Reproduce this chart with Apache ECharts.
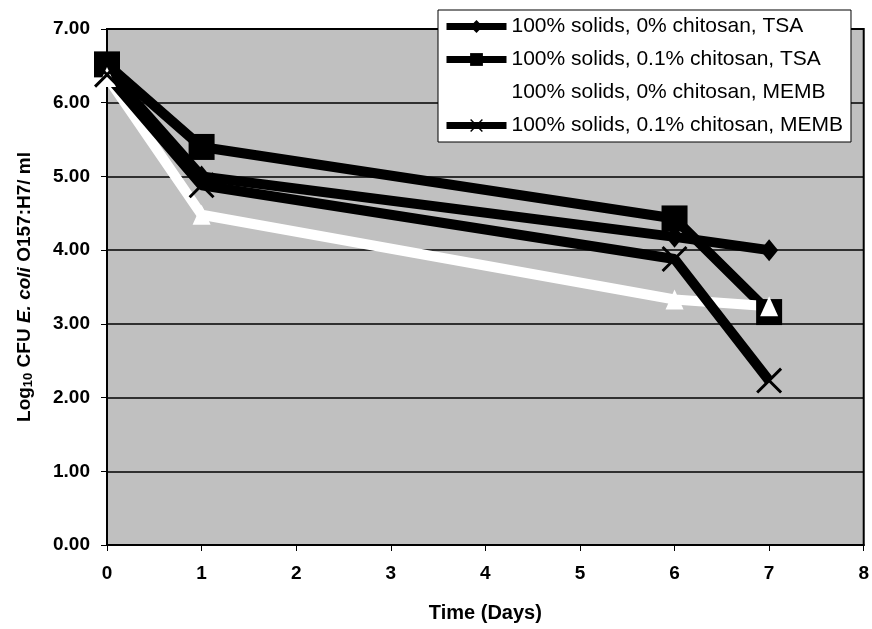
<!DOCTYPE html>
<html>
<head>
<meta charset="utf-8">
<script src="https://cdn.jsdelivr.net/npm/echarts@6/dist/echarts.min.js"></script>
<style>
html,body{margin:0;padding:0;background:#fff;}
#chart{width:872px;height:629px;}
</style>
</head>
<body>
<div id="chart"></div>
<script>
// Data
var days = [0, 1, 6, 7];
var seriesNames = [
  '100% solids, 0% chitosan, TSA',
  '100% solids, 0.1% chitosan, TSA',
  '100% solids, 0% chitosan, MEMB',
  '100% solids, 0.1% chitosan, MEMB'
];
var tsa0 = [6.45, 5.00, 4.18, 4.00];
var tsa01 = [6.52, 5.40, 4.43, 3.16];
var memb0 = [6.35, 4.48, 3.33, 3.24];
var memb01 = [6.38, 4.88, 3.88, 2.23];
var yTicks = ['0.00', '1.00', '2.00', '3.00', '4.00', '5.00', '6.00', '7.00'];
var xTicks = ['0', '1', '2', '3', '4', '5', '6', '7', '8'];

function pairs(vals) {
  return days.map(function (d, i) { return [d, vals[i]]; });
}

var X_PATH = 'path://M0,0.8L0.8,0L10,9.2L9.2,10Z M9.2,0L10,0.8L0.8,10L0,9.2Z';

var chart = echarts.init(document.getElementById('chart'), null, {renderer: 'canvas'});
var font = 'Arial, "Liberation Sans", Helvetica, sans-serif';

var option = {
  animation: false,
  textStyle: {fontFamily: font},
  grid: {
    left: 107, right: 7, top: 29, bottom: 84,
    show: true,
    backgroundColor: '#c0c0c0',
    borderColor: '#000',
    borderWidth: 2
  },
  legend: {
    left: 438, top: 10,
    orient: 'vertical',
    backgroundColor: '#ffffff',
    borderColor: '#000',
    borderWidth: 1,
    padding: [6, 8, 6, 5],
    itemGap: 12,
    itemWidth: 60,
    itemHeight: 16,
    lineStyle: {width: 7},
    textStyle: {fontSize: 21, color: '#000', fontFamily: font},
    data: seriesNames
  },
  xAxis: {
    type: 'value',
    min: 0, max: 8, interval: 1,
    name: 'Time (Days)',
    nameLocation: 'middle',
    nameGap: 58,
    nameTextStyle: {fontSize: 20, fontWeight: 'bold', color: '#000', fontFamily: font},
    axisLine: {show: true, lineStyle: {color: '#000', width: 2}},
    axisTick: {show: true, length: 6, lineStyle: {color: '#000', width: 1}},
    axisLabel: {
      fontSize: 19, fontWeight: 'bold', color: '#000', margin: 19,
      formatter: function (v) { return xTicks[Math.round(v)]; }
    },
    splitLine: {show: false}
  },
  yAxis: {
    type: 'value',
    min: 0, max: 7, interval: 1,
    name: '{n|Log}{sub|10}{n| CFU }{i|E. coli}{n| O157:H7/ ml}',
    nameLocation: 'middle',
    nameGap: 72,
    nameRotate: 90,
    nameTextStyle: {
      fontSize: 19, fontWeight: 'bold', color: '#000', fontFamily: font,
      rich: {
        n: {fontSize: 19, fontWeight: 'bold', color: '#000', fontFamily: font},
        sub: {fontSize: 13, fontWeight: 'bold', color: '#000', fontFamily: font, verticalAlign: 'bottom', padding: [7, 0, 0, 0]},
        i: {fontSize: 19, fontWeight: 'bold', fontStyle: 'italic', color: '#000', fontFamily: font}
      }
    },
    axisLine: {show: true, lineStyle: {color: '#000', width: 2}},
    axisTick: {show: true, length: 6, lineStyle: {color: '#000', width: 1}},
    axisLabel: {
      fontSize: 19, fontWeight: 'bold', color: '#000', margin: 17,
      formatter: function (v) { return yTicks[Math.round(v)]; }
    },
    splitLine: {show: true, lineStyle: {color: '#000', width: 1.5}}
  },
  series: [
    {
      name: seriesNames[0], type: 'line', data: pairs(tsa0),
      symbol: 'diamond', symbolSize: [18, 22],
      lineStyle: {color: '#000', width: 10},
      itemStyle: {color: '#000'}
    },
    {
      name: seriesNames[1], type: 'line', data: pairs(tsa01),
      symbol: 'rect', symbolSize: 26,
      lineStyle: {color: '#000', width: 10},
      itemStyle: {color: '#000'}
    },
    {
      name: seriesNames[2], type: 'line', data: pairs(memb0),
      symbol: 'triangle', symbolSize: [18, 20],
      lineStyle: {color: '#fff', width: 10},
      itemStyle: {color: '#fff'}
    },
    {
      name: seriesNames[3], type: 'line', data: pairs(memb01),
      symbol: X_PATH, symbolSize: [26, 26],
      lineStyle: {color: '#000', width: 10},
      itemStyle: {color: '#000'}
    }
  ]
};
chart.setOption(option);
</script>
</body>
</html>
